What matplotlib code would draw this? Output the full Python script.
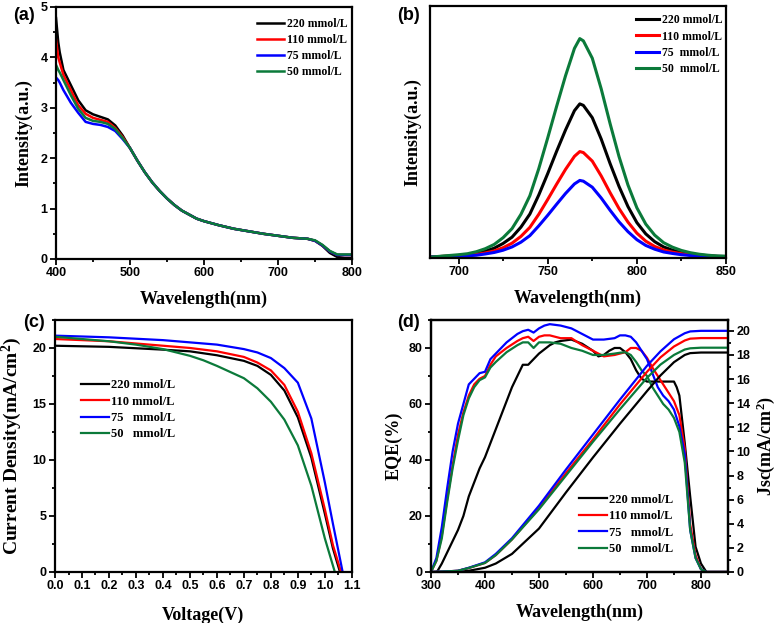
import matplotlib
matplotlib.use('Agg')
import matplotlib.pyplot as plt
from matplotlib.ticker import MultipleLocator

# ---------------- data ----------------
labels_a = ['220 mmol/L', '110 mmol/L', '75 mmol/L', '50 mmol/L']
labels_b = ['220 mmol/L', '110 mmol/L', '75  mmol/L', '50  mmol/L']
labels_cd = ['220 mmol/L', '110 mmol/L', '75   mmol/L', '50   mmol/L']
colors = ['black', '#ff0000', '#0000ff', '#0b7a3a']

# (a) absorption
abs_wl = [400, 403, 405, 410, 420, 430, 440, 450, 460, 470, 480, 490, 500, 510, 520,
          530, 540, 550, 560, 570, 580, 590, 600, 620, 640, 660, 680, 700, 720, 740,
          750, 760, 770, 780, 790, 800]
abs_tail = [2.20, 1.95, 1.72, 1.52, 1.35, 1.20, 1.07, 0.96, 0.88, 0.80, 0.75, 0.67,
            0.60, 0.55, 0.50, 0.46, 0.42, 0.40]
abs_220 = [4.78, 4.30, 4.10, 3.75, 3.45, 3.15, 2.95, 2.87, 2.82, 2.77, 2.65, 2.45] + abs_tail + [0.36, 0.26, 0.12, 0.04, 0.02, 0.02]
abs_110 = [4.35, 4.00, 3.90, 3.65, 3.35, 3.05, 2.88, 2.80, 2.76, 2.72, 2.60, 2.42] + abs_tail + [0.36, 0.27, 0.15, 0.08, 0.08, 0.08]
abs_75 = [3.60, 3.55, 3.50, 3.35, 3.10, 2.90, 2.72, 2.68, 2.66, 2.62, 2.54, 2.38] + abs_tail + [0.36, 0.27, 0.15, 0.08, 0.08, 0.08]
abs_50 = [3.85, 3.75, 3.70, 3.55, 3.25, 2.98, 2.80, 2.74, 2.72, 2.68, 2.58, 2.40] + abs_tail + [0.37, 0.28, 0.16, 0.09, 0.09, 0.09]

# (b) PL
pl_wl = [685, 690, 695, 700, 705, 710, 715, 720, 725, 730, 735, 740, 745, 750, 755, 760,
         765, 768, 770, 775, 780, 785, 790, 795, 800, 805, 810, 815, 820, 825, 830, 835,
         840, 845, 850]
pl_220 = [0, 0.002, 0.004, 0.006, 0.009, 0.015, 0.023, 0.035, 0.054, 0.079, 0.119, 0.171,
          0.247, 0.332, 0.421, 0.506, 0.583, 0.610, 0.604, 0.555, 0.470, 0.372, 0.281,
          0.201, 0.137, 0.092, 0.061, 0.040, 0.027, 0.018, 0.012, 0.008, 0.005, 0.003, 0.002]
pl_110 = [0, 0.002, 0.003, 0.004, 0.006, 0.010, 0.016, 0.024, 0.037, 0.055, 0.082, 0.118,
          0.170, 0.229, 0.290, 0.349, 0.401, 0.420, 0.416, 0.382, 0.323, 0.256, 0.193,
          0.139, 0.095, 0.063, 0.042, 0.028, 0.019, 0.013, 0.008, 0.005, 0.003, 0.002, 0.001]
pl_75 = [0, 0.001, 0.002, 0.003, 0.005, 0.007, 0.012, 0.018, 0.027, 0.040, 0.059, 0.085,
         0.124, 0.166, 0.210, 0.253, 0.291, 0.305, 0.302, 0.278, 0.235, 0.186, 0.140,
         0.101, 0.069, 0.046, 0.031, 0.020, 0.014, 0.009, 0.006, 0.004, 0.002, 0.002, 0.001]
pl_50 = [0, 0.003, 0.006, 0.009, 0.013, 0.021, 0.033, 0.050, 0.077, 0.113, 0.170, 0.244,
         0.352, 0.474, 0.600, 0.722, 0.831, 0.870, 0.861, 0.792, 0.670, 0.531, 0.400,
         0.287, 0.196, 0.131, 0.087, 0.057, 0.039, 0.026, 0.017, 0.011, 0.007, 0.004, 0.003]

# (c) J-V
v_220 = [0.0, 0.2, 0.4, 0.5, 0.6, 0.7, 0.75, 0.8, 0.85, 0.9, 0.95, 1.0, 1.03, 1.056]
j_220 = [20.2, 20.1, 19.85, 19.7, 19.35, 18.85, 18.4, 17.6, 16.2, 13.8, 10.2, 5.2, 2.1, 0.0]
v_110 = [0.0, 0.2, 0.4, 0.5, 0.6, 0.7, 0.75, 0.8, 0.85, 0.9, 0.95, 1.0, 1.03, 1.06]
j_110 = [20.8, 20.6, 20.2, 20.0, 19.7, 19.2, 18.7, 18.0, 16.7, 14.3, 10.6, 5.6, 2.4, 0.0]
v_75 = [0.0, 0.2, 0.4, 0.5, 0.6, 0.7, 0.75, 0.8, 0.85, 0.9, 0.95, 1.0, 1.03, 1.066]
j_75 = [21.1, 20.95, 20.7, 20.5, 20.3, 19.9, 19.6, 19.1, 18.2, 16.9, 13.7, 8.0, 4.3, 0.0]
v_50 = [0.0, 0.1, 0.2, 0.3, 0.4, 0.5, 0.55, 0.6, 0.7, 0.75, 0.8, 0.85, 0.9, 0.95, 1.0, 1.037]
j_50 = [21.0, 20.8, 20.6, 20.3, 19.9, 19.3, 18.9, 18.4, 17.3, 16.4, 15.2, 13.6, 11.3, 7.7, 3.0, 0.0]

# (d) EQE and integrated Jsc
eqe_wl = [300, 310, 320, 330, 340, 350, 360, 370, 380, 390, 400, 410, 420, 440, 460, 470,
          480, 490, 500, 510, 520, 540, 560, 580, 600, 620, 640, 650, 660, 670, 680, 690,
          700, 710, 720, 730, 740, 750, 760, 770, 780, 790, 800, 810, 850]
eqe_75 = [0, 5, 16, 30, 43, 53, 60, 67, 69, 71, 71.5, 76, 78, 82, 85, 86, 86.5, 85.5, 87,
          88, 88.5, 88, 87, 85, 83, 83, 83.5, 84.5, 84.5, 84, 82, 79, 76, 71, 66, 63, 61,
          58, 52, 42, 15, 5, 1, 0, 0]
eqe_110 = [0, 4, 13, 26, 38, 49, 57, 63, 67, 69, 70, 74, 77, 80, 82.5, 83.5, 84, 82.5, 84,
           84.5, 84.5, 83.5, 83.5, 81, 79, 77, 77.5, 78, 78.5, 80, 80, 79, 76.5, 73, 70,
           67, 64, 61, 56, 44, 17, 6, 1, 0, 0]
eqe_50 = [0, 4, 12, 25, 37, 47, 56, 62, 66, 68.5, 69.5, 73, 75, 78.5, 81, 82, 82, 80, 82,
          82, 82, 81.5, 80, 79, 77.5, 77.5, 78, 78.3, 78.5, 77.5, 75, 72, 70, 66, 63, 60,
          58, 55, 50, 39, 15, 5, 1, 0, 0]
eqe_220_wl = [311, 320, 330, 340, 350, 360, 370, 380, 390, 400, 410, 420, 430, 440, 450,
              460, 470, 480, 490, 500, 510, 520, 530, 540, 560, 580, 600, 610, 620, 630,
              640, 650, 660, 670, 680, 690, 700, 720, 740, 750, 755, 760, 770, 780, 790,
              800, 810, 850]
eqe_220 = [0, 3, 7, 11, 15, 20, 27, 32, 37, 41, 46, 51, 56, 61, 66, 70, 74, 74, 76, 78,
           79.5, 81, 82, 82.5, 83, 81.5, 79, 77, 77.5, 79, 80, 80, 78.5, 76, 72, 69, 68,
           68, 68, 68, 66, 63, 46, 27, 9, 3, 0, 0]

jsc_wl = [300, 330, 350, 370, 400, 420, 450, 500, 550, 600, 650, 700, 725, 750, 770, 780,
          800, 850]
jsc_75 = [0, 0.05, 0.1, 0.35, 0.8, 1.5, 2.8, 5.5, 8.5, 11.4, 14.3, 17.1, 18.3, 19.3, 19.8,
          19.95, 20.0, 20.0]
jsc_110 = [0, 0.05, 0.1, 0.33, 0.75, 1.4, 2.7, 5.3, 8.2, 11.0, 13.9, 16.6, 17.8, 18.7,
           19.2, 19.35, 19.4, 19.4]
jsc_50 = [0, 0.05, 0.1, 0.33, 0.75, 1.4, 2.7, 5.2, 8.0, 10.8, 13.5, 16.1, 17.2, 18.0,
          18.45, 18.55, 18.6, 18.6]
jsc_220 = [0, 0, 0.02, 0.1, 0.35, 0.7, 1.5, 3.6, 6.6, 9.5, 12.3, 15.0, 16.3, 17.4, 18.0,
           18.15, 18.2, 18.2]

# ---------------- style ----------------
SERIF = 'Liberation Serif'
SANS = 'Liberation Sans'
plt.rcParams['font.family'] = SANS
plt.rcParams['font.weight'] = 'bold'
plt.rcParams['axes.linewidth'] = 1.6
plt.rcParams['mathtext.fontset'] = 'custom'
plt.rcParams['mathtext.rm'] = 'Liberation Serif:bold'
plt.rcParams['mathtext.it'] = 'Liberation Serif:bold'
plt.rcParams['mathtext.bf'] = 'Liberation Serif:bold'

fig = plt.figure(figsize=(7.77, 6.23), dpi=100)
ax_a = fig.add_axes([0.0721, 0.5843, 0.381, 0.4045])
ax_b = fig.add_axes([0.5534, 0.5859, 0.381, 0.4045])
ax_c = fig.add_axes([0.0708, 0.0819, 0.382, 0.4045])
ax_d = fig.add_axes([0.5547, 0.0819, 0.3822, 0.4045])


def style_ticks(ax, left=True):
    ax.tick_params(which='both', direction='out', width=1.3, labelsize=9,
                   top=False, right=False, left=left, labelleft=left, pad=2)
    ax.tick_params(which='major', length=4)
    ax.tick_params(which='minor', length=2.5)
    for t in ax.get_xticklabels() + ax.get_yticklabels():
        t.set_fontfamily(SANS)
        t.set_fontweight('bold')


def add_legend(ax, handles, labels, x, y, size, hl):
    ax.legend(handles, labels, loc='upper left', bbox_to_anchor=(x, y), frameon=False,
              borderpad=0, handlelength=hl, handletextpad=0.2, labelspacing=0.35,
              prop={'family': SERIF, 'weight': 'bold', 'size': size})


lab = {'family': SERIF, 'weight': 'bold'}

# (a)
lines = []
for ys, c in zip([abs_220, abs_110, abs_75, abs_50], colors):
    lines.append(ax_a.plot(abs_wl, ys, color=c, lw=1.8)[0])
ax_a.set_xlim(400, 800)
ax_a.set_ylim(0, 5)
ax_a.xaxis.set_major_locator(MultipleLocator(100))
ax_a.xaxis.set_minor_locator(MultipleLocator(50))
ax_a.yaxis.set_major_locator(MultipleLocator(1))
ax_a.yaxis.set_minor_locator(MultipleLocator(0.5))
style_ticks(ax_a)
ax_a.set_xlabel('Wavelength(nm)', fontdict=lab, fontsize=13, labelpad=8)
ax_a.set_ylabel('Intensity(a.u.)', fontdict=lab, fontsize=13, labelpad=6)
add_legend(ax_a, lines, labels_a, 0.66, 0.98, 8.5, 2.3)
fig.text(0.017, 0.975, '(a)', fontsize=13, fontweight='bold', family=SANS, va='center')

# (b)
lines = []
for ys, c in zip([pl_220, pl_110, pl_75, pl_50], colors):
    lines.append(ax_b.plot(pl_wl, ys, color=c, lw=2.2)[0])
ax_b.set_xlim(684, 850)
ax_b.set_ylim(-0.004, 1)
ax_b.xaxis.set_major_locator(MultipleLocator(50))
ax_b.xaxis.set_minor_locator(MultipleLocator(25))
ax_b.set_yticks([])
style_ticks(ax_b, left=False)
ax_b.set_xlabel('Wavelength(nm)', fontdict=lab, fontsize=13, labelpad=8)
ax_b.set_ylabel('Intensity(a.u.)', fontdict=lab, fontsize=13, labelpad=6)
add_legend(ax_b, lines, labels_b, 0.675, 0.99, 8.5, 2.0)
fig.text(0.511, 0.975, '(b)', fontsize=13, fontweight='bold', family=SANS, va='center')

# (c)
lines = []
for vs, js, c in zip([v_220, v_110, v_75, v_50], [j_220, j_110, j_75, j_50], colors):
    lines.append(ax_c.plot(vs, js, color=c, lw=1.6)[0])
ax_c.set_xlim(0, 1.1)
ax_c.set_ylim(0, 22.5)
ax_c.xaxis.set_major_locator(MultipleLocator(0.1))
ax_c.xaxis.set_minor_locator(MultipleLocator(0.05))
ax_c.yaxis.set_major_locator(MultipleLocator(5))
ax_c.yaxis.set_minor_locator(MultipleLocator(2.5))
style_ticks(ax_c)
ax_c.set_xlabel('Voltage(V)', fontdict=lab, fontsize=13, labelpad=10)
ax_c.set_ylabel('Current Density(mA/cm$^2$)', fontdict=lab, fontsize=14, labelpad=6)
add_legend(ax_c, lines, labels_cd, 0.068, 0.79, 9, 2.2)
fig.text(0.03, 0.482, '(c)', fontsize=13, fontweight='bold', family=SANS, va='center')

# (d)
ax_d2 = ax_d.twinx()
lines = []
lines.append(ax_d.plot(eqe_220_wl, eqe_220, color=colors[0], lw=1.6)[0])
lines.append(ax_d.plot(eqe_wl, eqe_110, color=colors[1], lw=1.6)[0])
lines.append(ax_d.plot(eqe_wl, eqe_75, color=colors[2], lw=1.6)[0])
lines.append(ax_d.plot(eqe_wl, eqe_50, color=colors[3], lw=1.6)[0])
for ys, c in zip([jsc_220, jsc_110, jsc_75, jsc_50], colors):
    ax_d2.plot(jsc_wl, ys, color=c, lw=1.6)
ax_d.set_xlim(300, 850)
ax_d.set_ylim(0, 90)
ax_d2.set_ylim(0, 20.9)
ax_d.xaxis.set_major_locator(MultipleLocator(100))
ax_d.xaxis.set_minor_locator(MultipleLocator(50))
ax_d.yaxis.set_major_locator(MultipleLocator(20))
ax_d.yaxis.set_minor_locator(MultipleLocator(10))
ax_d2.yaxis.set_major_locator(MultipleLocator(2))
ax_d2.yaxis.set_minor_locator(MultipleLocator(1))
style_ticks(ax_d)
ax_d2.tick_params(which='both', direction='out', width=1.3, labelsize=9, pad=2)
ax_d2.tick_params(which='major', length=4)
ax_d2.tick_params(which='minor', length=2.5)
for t in ax_d2.get_yticklabels():
    t.set_fontfamily(SANS)
    t.set_fontweight('bold')
ax_d.set_xlabel('Wavelength(nm)', fontdict=lab, fontsize=13, labelpad=8)
ax_d.set_ylabel('EQE(%)', fontdict=lab, fontsize=13, labelpad=4)
ax_d2.set_ylabel('Jsc(mA/cm$^2$)', fontdict=lab, fontsize=13, labelpad=3)
add_legend(ax_d, lines, labels_cd, 0.478, 0.335, 9, 2.2)
fig.text(0.511, 0.482, '(d)', fontsize=13, fontweight='bold', family=SANS, va='center')

fig.savefig('out.png', dpi=100)
